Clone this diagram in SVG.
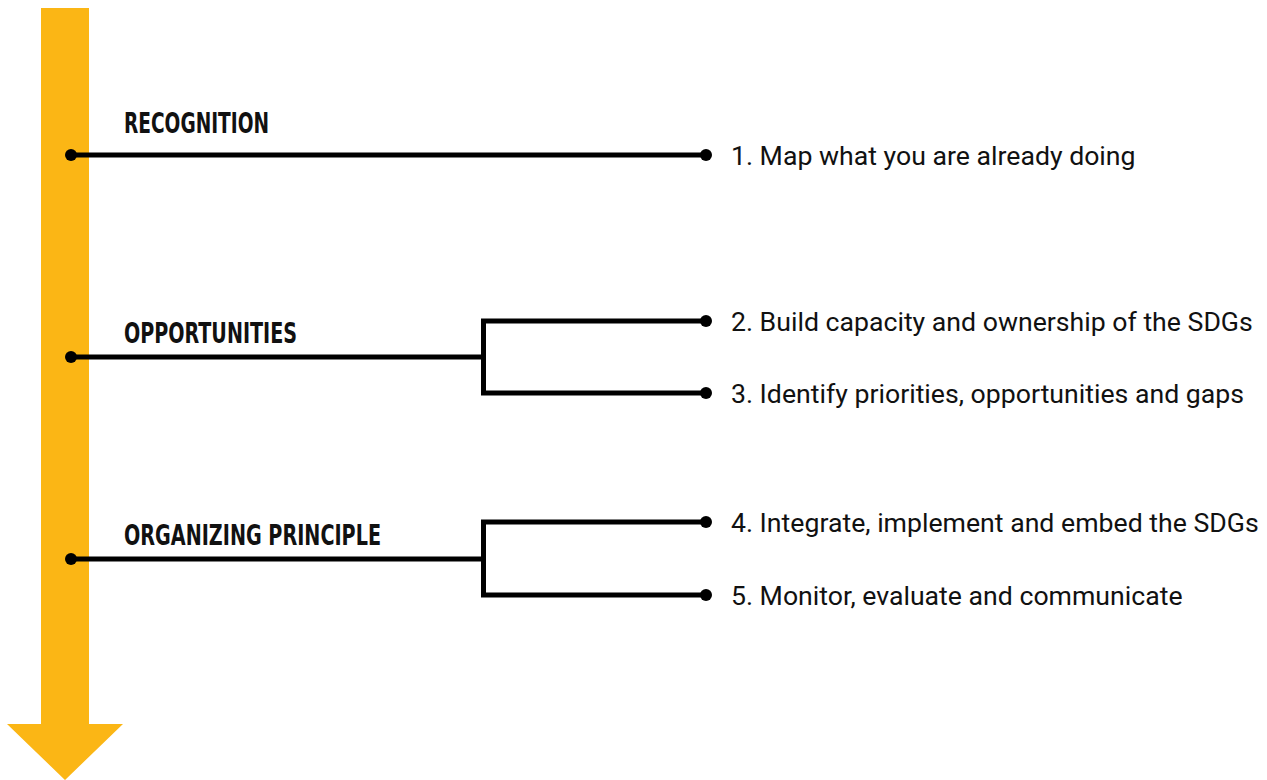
<svg xmlns="http://www.w3.org/2000/svg" width="1267" height="780" viewBox="0 0 1267 780">
<style>
.head{font-family:"Liberation Sans Narrow","DejaVu Sans Condensed","Liberation Sans",sans-serif;font-weight:bold;font-size:29px;fill:#111;font-stretch:condensed}
.item{font-family:Roboto,"Liberation Sans",sans-serif;font-size:26.67px;fill:#111}
.ln{stroke:#000;stroke-width:5;fill:none}
.dot{fill:#000}
</style>
<rect width="1267" height="780" fill="#fff"/>
<g id="timeline-arrow">
<polygon points="41,8 89,8 89,724 123,724 65,780 7,724 41,724" fill="#FBB615"/>
</g>
<g id="connectors">
<line class="ln" x1="71" y1="155" x2="705" y2="155"/>
<polyline class="ln" points="71,357 483.5,357"/>
<polyline class="ln" points="705,321 483.5,321 483.5,393 705,393"/>
<polyline class="ln" points="71,559 483.5,559"/>
<polyline class="ln" points="705,522 483.5,522 483.5,595 705,595"/>
<circle class="dot" cx="71" cy="155" r="6"/>
<circle class="dot" cx="71" cy="357" r="6"/>
<circle class="dot" cx="71" cy="559" r="6"/>
<circle class="dot" cx="706" cy="155" r="6"/>
<circle class="dot" cx="706" cy="321" r="6"/>
<circle class="dot" cx="706" cy="393" r="6"/>
<circle class="dot" cx="706" cy="522" r="6"/>
<circle class="dot" cx="706" cy="595" r="6"/>
</g>
<g id="recognition">
<text class="head" x="124" y="133" textLength="145" lengthAdjust="spacingAndGlyphs">RECOGNITION</text>
</g>
<g id="opportunities">
<text class="head" x="124" y="343" textLength="173" lengthAdjust="spacingAndGlyphs">OPPORTUNITIES</text>
</g>
<g id="organizing-principle">
<text class="head" x="124" y="545" textLength="257" lengthAdjust="spacingAndGlyphs">ORGANIZING PRINCIPLE</text>
</g>
<g id="step1"><text class="item" x="731" y="165">1. Map what you are already doing</text></g>
<g id="step2"><text class="item" x="731" y="331">2. Build capacity and ownership of the SDGs</text></g>
<g id="step3"><text class="item" x="731" y="403">3. Identify priorities, opportunities and gaps</text></g>
<g id="step4"><text class="item" x="731" y="532">4. Integrate, implement and embed the SDGs</text></g>
<g id="step5"><text class="item" x="731" y="605">5. Monitor, evaluate and communicate</text></g>
</svg>
